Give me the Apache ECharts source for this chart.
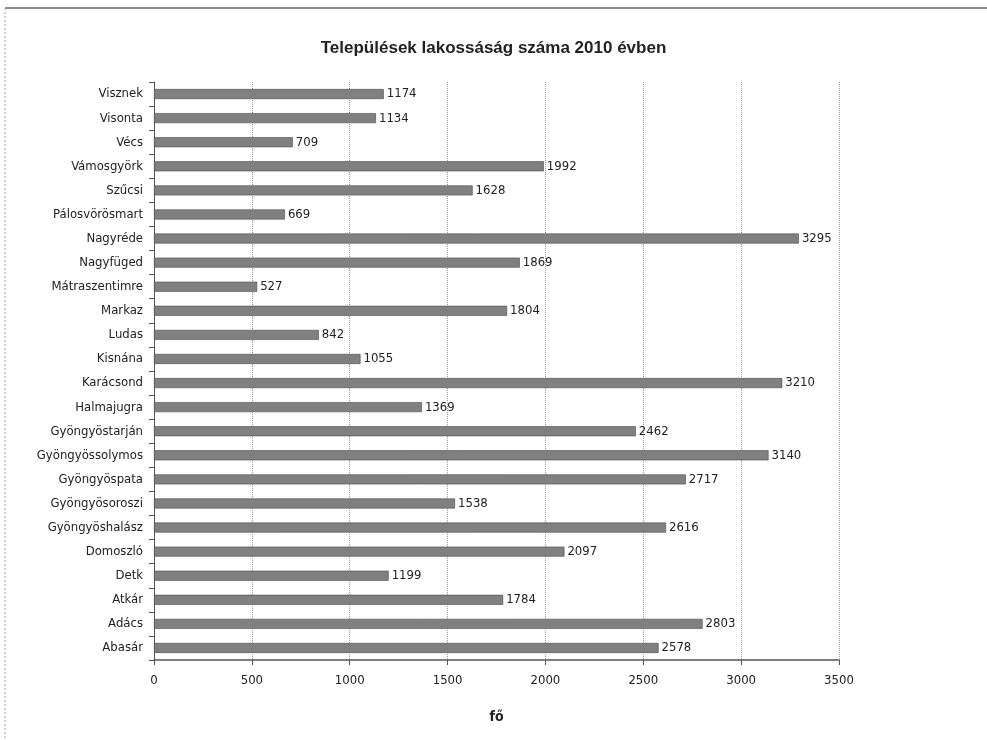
<!DOCTYPE html>
<html><head><meta charset="utf-8">
<script src="https://cdn.jsdelivr.net/npm/echarts@6/dist/echarts.min.js"></script>
<style>html,body{margin:0;padding:0;background:#fff}#c{width:987px;height:740px}</style>
</head><body><div id="c"></div>
<script>
const categories = ["Abasár","Adács","Atkár","Detk","Domoszló","Gyöngyöshalász","Gyöngyösoroszi","Gyöngyöspata","Gyöngyössolymos","Gyöngyöstarján","Halmajugra","Karácsond","Kisnána","Ludas","Markaz","Mátraszentimre","Nagyfüged","Nagyréde","Pálosvörösmart","Szűcsi","Vámosgyörk","Vécs","Visonta","Visznek"];
const population = [2578,2803,1784,1199,2097,2616,1538,2717,3140,2462,1369,3210,1055,842,1804,527,1869,3295,669,1628,1992,709,1134,1174];
const xTicks = [0,500,1000,1500,2000,2500,3000,3500];

const FONT = '"Liberation Sans Narrow","DejaVu Sans Condensed","Liberation Sans",Arial,sans-serif';
const chart = echarts.init(document.getElementById('c'));
chart.setOption({
  animation:false,
  backgroundColor:'#fff',
  title:{text:'Települések lakossáság száma 2010 évben',left:'center',top:35,
    textStyle:{fontFamily:'"Liberation Sans",Arial,sans-serif',fontSize:17,fontWeight:'bold',color:'#222'}},
  grid:{left:154,right:148,top:82,bottom:80},
  xAxis:{type:'value',min:xTicks[0],max:xTicks[xTicks.length-1],interval:500,
    name:'fő',nameLocation:'middle',nameGap:50,
    nameTextStyle:{fontFamily:FONT,fontSize:14,fontWeight:'bold',color:'#222'},
    axisLine:{show:true,lineStyle:{color:'#555',width:1.5}},
    axisTick:{show:true,length:5,inside:false,lineStyle:{color:'#555'}},
    axisLabel:{fontFamily:FONT,fontSize:13,color:'#222',margin:14,formatter:v=>String(v)},
    splitLine:{show:true,lineStyle:{color:'#999',type:'dotted',width:1}}},
  yAxis:{type:'category',data:categories,
    axisLine:{show:true,lineStyle:{color:'#555',width:1}},
    axisTick:{show:true,length:5,lineStyle:{color:'#555'}},
    axisLabel:{fontFamily:FONT,fontSize:13,color:'#222',margin:11}},
  series:[{type:'bar',data:population,barWidth:10,
    itemStyle:{color:'#808080',borderColor:'#4a4a4a',borderWidth:0.6},
    label:{show:true,position:'right',distance:3,fontFamily:FONT,fontSize:13,color:'#222'}}],
  graphic:[
    {type:'line',shape:{x1:5,y1:8,x2:987,y2:8},style:{stroke:'#666',lineWidth:1.5}},
    {type:'line',shape:{x1:5,y1:8,x2:5,y2:740},style:{stroke:'#aaa',lineWidth:1,lineDash:[2,2]}}
  ]
});
</script></body></html>
